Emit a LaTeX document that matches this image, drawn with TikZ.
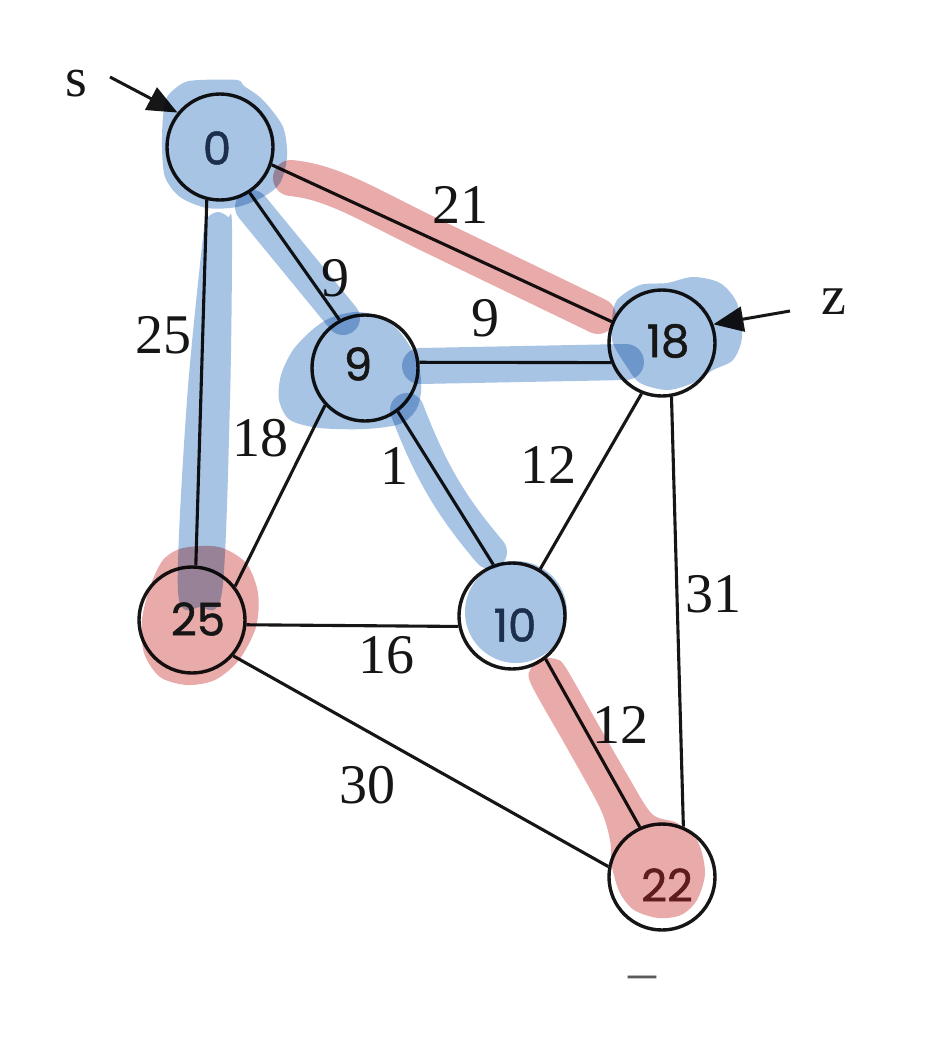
\documentclass[tikz,border=0pt]{standalone}
\usepackage{fontspec}
\setmainfont{Liberation Serif}
\newfontfamily\handfont[FakeBold=1.2]{Poppins}
\usetikzlibrary{arrows.meta}
\definecolor{hlb}{RGB}{167,196,228}
\definecolor{hlr}{RGB}{233,170,170}
\definecolor{ink}{RGB}{22,22,22}
\definecolor{navyink}{RGB}{28,48,78}
\definecolor{redink}{RGB}{95,28,28}
\definecolor{dashgrey}{RGB}{90,90,90}
\begin{document}
\begin{tikzpicture}[x=1pt,y=-1pt,
  vtx/.style={circle,draw=ink,line width=3.4pt,minimum size=106pt,inner sep=0pt},
  edge/.style={draw=ink,line width=3.1pt},
  wlab/.style={font=\fontsize{56}{56}\selectfont,inner sep=0pt,text=ink},
  vlab/.style={font=\handfont\fontsize{45}{45}\selectfont,inner sep=0pt},
  ptr/.style={draw=ink,line width=3pt,-{Triangle[length=30pt,width=25pt]}},
  hbs/.style={draw=hlb,line width=34pt,line cap=round},
  hrs/.style={draw=hlr,line width=36pt,line cap=round},
  hbf/.style={fill=hlb},
  hrf/.style={fill=hlr}]
\useasboundingbox (0,0) rectangle (934,1060);
\fill[white] (0,0) rectangle (934,1060);

% vertices
\node[vtx] (n0)  at (220,147) {};
\node[vtx] (n9)  at (365,368) {};
\node[vtx] (n18) at (662,343) {};
\node[vtx] (n25) at (192,620) {};
\node[vtx] (n10) at (512,616) {};
\node[vtx] (n22) at (662,877) {};

% edges
\draw[edge] (n0.-104) -- (n25.86);
\draw[edge] (n0.-57) -- (n9.118);
\draw[edge] (n0.-19) -- (n18.157);
\draw[edge] (n9.6) -- (n18.-159);
\draw[edge] (n9.-137) -- (n25.38);
\draw[edge] (n9.-53) -- (n10.110);
\draw[edge] (n18.-112) -- (n10.59);
\draw[edge] (n18.-80) -- (n22.67);
\draw[edge] (n25.-5) -- (n10.-169);
\draw[edge] (n25.-41) -- (n22.169);
\draw[edge] (n10.-52) -- (n22.114);

% start / end pointers
\coordinate (sfrom) at (110,77);
\coordinate (zfrom) at (790,311);
\draw[ptr] (sfrom) -- (n0.141);
\draw[ptr] (zfrom) -- (n18.20);
\node[wlab] (ls) at (76,84) {s};
\node[wlab] (lz) at (834,302) {z};

% weights
\node[wlab] (w025) at (163,335) {25};
\node[wlab] (w009) at (335,278) {9};
\node[wlab] (w018) at (460,205) {21};
\node[wlab] (w918) at (485,318) {9};
\node[wlab] (w925) at (260,438) {18};
\node[wlab] (w910) at (394,466) {1};
\node[wlab] (w1810) at (548,465) {12};
\node[wlab] (w1822) at (713,594) {31};
\node[wlab] (w2510) at (386,655) {16};
\node[wlab] (w2522) at (367,785) {30};
\node[wlab] (w1022) at (620,725) {12};
\node[wlab,text=dashgrey] (mark) at (642,983) {–};

% highlighter marks (multiply, like a real highlighter)
\begin{scope}[blend mode=multiply]
  % red
  \draw[hrs] (291,178) .. controls (330,182) and (360,200) .. (420,230) -- (598,316);
  \fill[hrf] plot[smooth cycle] coordinates {(144,653) (142,620) (150,587) (163,560) (183,548) (219,547) (246,563) (258,593) (256,627) (239,660) (215,680) (187,685) (160,677)};
  \fill[hrf] plot[smooth cycle] coordinates {(531,684) (531,668) (540,659) (556,659) (566,668) (598,724) (628,776) (652,814) (677,823) (698,842) (705,873) (697,900) (681,915) (658,918) (634,910) (620,893) (612,867) (610,840) (600,808) (567,748)};
  % blue
  \fill[hbf] plot[smooth cycle] coordinates {(167,97) (183,83) (200,80) (237,80) (244,86) (263,100) (283,127) (287,157) (280,183) (263,197) (237,207) (207,208) (180,197) (165,177) (162,147) (163,117)};
  \fill[hbf] plot[smooth cycle] coordinates {(204,228) (208,217) (218,212) (228,217) (232,228) (230,400) (222,592) (200,607) (178,592) (187,400)};
  \draw[hbs] (252,207) -- (343,318);
  \fill[hbf] plot[smooth cycle] coordinates {(330,318) (355,312) (378,316) (398,330) (412,350) (420,372) (421,392) (416,410) (400,424) (365,429) (320,428) (290,420) (279,400) (281,375) (293,350) (312,330)};
  \draw[hbs,line width=36pt] (420,366) -- (626,362);
  \draw[hbs] (407,410) .. controls (430,470) and (450,505) .. (490,552);
  \fill[hbf] plot[smooth cycle] coordinates {(617,300) (640,285) (667,283) (693,277) (720,283) (737,303) (742,337) (733,360) (713,370) (693,383) (667,390) (640,383) (627,367) (613,343) (612,320)};
  \fill[hbf] (516,612) circle[radius=51];
\end{scope}

% vertex texts
\node[vlab,text=navyink] (t0)  at (217,148) {0};
\node[vlab,text=ink]     (t9)  at (358,364) {9};
\node[vlab,text=ink]     (t18) at (668,341) {18};
\node[vlab,text=ink]     (t25) at (198,619) {25};
\node[vlab,text=navyink] (t10) at (515,625) {10};
\node[vlab,text=redink]  (t22) at (667,885) {22};
\end{tikzpicture}
\end{document}
